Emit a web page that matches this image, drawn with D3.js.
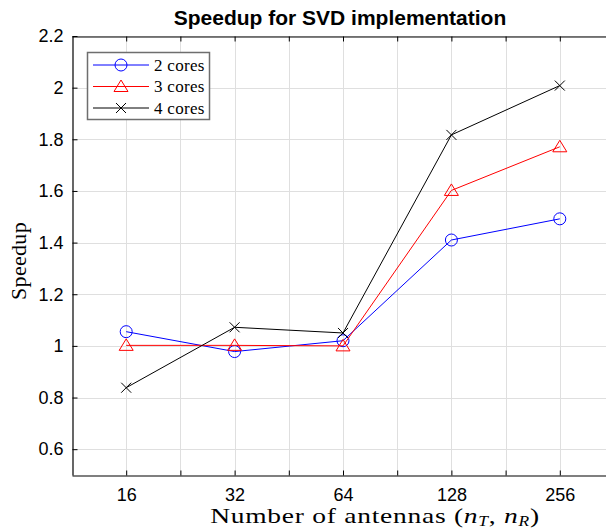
<!DOCTYPE html>
<html>
<head>
<meta charset="utf-8">
<script src="https://cdn.jsdelivr.net/npm/d3@7"></script>
<style>
  body { margin: 0; background: #fff; }
  svg { display: block; }
</style>
</head>
<body>
<div id="chart"></div>
<script>
// data
var antennas = [16, 32, 64, 128, 256];
var cores2 = [1.055, 0.978, 1.020, 1.410, 1.492];
var cores3 = [1.002, 1.002, 1.000, 1.602, 1.771];
var cores4 = [0.838, 1.072, 1.050, 1.817, 2.008];
var seriesNames = ["2 cores", "3 cores", "4 cores"];
var yTicks = [0.6, 0.8, 1, 1.2, 1.4, 1.6, 1.8, 2, 2.2];

var W = 606, H = 531;
var plot = {left: 72, top: 36, bottom: 475, right: 614};

var svg = d3.select("#chart").append("svg")
    .attr("width", W)
    .attr("height", H);

var x = d3.scaleLog().base(2)
    .domain([Math.pow(2, 3.5), Math.pow(2, 8.5)])
    .range([plot.left, plot.right]);
var y = d3.scaleLinear()
    .domain([0.5, 2.2])
    .range([plot.bottom, plot.top]);

// minor ticks at half octaves
var minorTicks = antennas.map(function(d) { return d * Math.SQRT2; });
var allX = antennas.concat(minorTicks);

// grid
var grid = svg.append("g").attr("stroke", "#dfdfdf").attr("stroke-width", 1);
grid.selectAll(".vg").data(allX).enter().append("line")
    .attr("x1", function(d) { return Math.round(x(d)) + 0.5; })
    .attr("x2", function(d) { return Math.round(x(d)) + 0.5; })
    .attr("y1", plot.top).attr("y2", plot.bottom);
grid.selectAll(".hg").data(yTicks).enter().append("line")
    .attr("y1", function(d) { return Math.round(y(d)) + 0.5; })
    .attr("y2", function(d) { return Math.round(y(d)) + 0.5; })
    .attr("x1", plot.left).attr("x2", plot.right);

// axes (ticks pointing inward, box on)
var fontTick = "'Liberation Sans', Arial, sans-serif";

svg.append("g")
    .attr("transform", "translate(0," + (plot.bottom + 0.5) + ")")
    .call(d3.axisBottom(x).tickValues(antennas).tickFormat(d3.format("d"))
        .tickSizeInner(-5).tickSizeOuter(0).tickPadding(13));
svg.append("g")
    .attr("transform", "translate(0," + (plot.bottom + 0.5) + ")")
    .call(d3.axisBottom(x).tickValues(minorTicks).tickFormat("")
        .tickSizeInner(-5).tickSizeOuter(0))
    .select(".domain").remove();

svg.append("g")
    .attr("transform", "translate(" + (plot.left + 0.5) + ",0)")
    .call(d3.axisLeft(y).tickValues(yTicks).tickFormat(d3.format("~g"))
        .tickSizeInner(-5).tickSizeOuter(0).tickPadding(9));

// top edge with ticks
svg.append("g")
    .attr("transform", "translate(0," + (plot.top + 0.5) + ")")
    .call(d3.axisTop(x).tickValues(allX).tickFormat("")
        .tickSizeInner(-5).tickSizeOuter(0));

svg.selectAll(".domain").attr("stroke", "#000").attr("stroke-width", 1.2);
svg.selectAll(".tick line").attr("stroke", "#000");
svg.selectAll(".tick text")
    .style("font-family", fontTick)
    .style("font-size", "18px")
    .attr("fill", "#000");

// series
var series = [
  {name: seriesNames[0], values: cores2, color: "#0000ff", marker: "circle"},
  {name: seriesNames[1], values: cores3, color: "#ff0000", marker: "triangle"},
  {name: seriesNames[2], values: cores4, color: "#000000", marker: "cross"}
];

var line = d3.line()
    .x(function(d, i) { return x(antennas[i]); })
    .y(function(d) { return y(d); });

function drawMarker(g, type, color, cx, cy) {
  if (type === "circle") {
    g.append("circle").attr("cx", cx).attr("cy", cy).attr("r", 6)
        .attr("fill", "none").attr("stroke", color).attr("stroke-width", 1);
  } else if (type === "triangle") {
    g.append("path")
        .attr("d", "M" + cx + "," + (cy - 6.5) + "L" + (cx + 7) + "," + (cy + 5) + "L" + (cx - 7) + "," + (cy + 5) + "Z")
        .attr("fill", "none").attr("stroke", color).attr("stroke-width", 1);
  } else {
    var s = 5;
    g.append("path")
        .attr("d", "M" + (cx - s) + "," + (cy - s) + "L" + (cx + s) + "," + (cy + s) +
                   "M" + (cx - s) + "," + (cy + s) + "L" + (cx + s) + "," + (cy - s))
        .attr("fill", "none").attr("stroke", color).attr("stroke-width", 1);
  }
}

series.forEach(function(s) {
  var g = svg.append("g");
  g.append("path")
      .datum(s.values)
      .attr("d", line)
      .attr("fill", "none")
      .attr("stroke", s.color)
      .attr("stroke-width", 1);
  s.values.forEach(function(v, i) {
    drawMarker(g, s.marker, s.color, x(antennas[i]), y(v));
  });
});

// legend
var serif = "'Liberation Serif', 'Times New Roman', serif";
var lg = svg.append("g");
lg.append("rect")
    .attr("x", 87.5).attr("y", 52.5)
    .attr("width", 122).attr("height", 67)
    .attr("fill", "#fff")
    .attr("stroke", "#6e6e6e").attr("stroke-width", 1.5);
series.forEach(function(s, i) {
  var ly = 65 + i * 21.5;
  lg.append("line")
      .attr("x1", 93).attr("x2", 149)
      .attr("y1", ly).attr("y2", ly)
      .attr("stroke", s.color).attr("stroke-width", 1);
  drawMarker(lg, s.marker, s.color, 121, ly);
  lg.append("text")
      .attr("x", 154).attr("y", ly + 5.5)
      .style("font-family", serif)
      .style("font-size", "17px")
      .style("letter-spacing", "0.3px")
      .attr("fill", "#000")
      .text(s.name);
});

// title
svg.append("text")
    .attr("x", 340).attr("y", 25)
    .attr("text-anchor", "middle")
    .style("font-family", fontTick)
    .style("font-size", "21px")
    .style("font-weight", "bold")
    .text("Speedup for SVD implementation");

// axis labels (LaTeX font is wider than Times: widen a bit)
var xlg = svg.append("g");
var xl = xlg.append("text")
    .attr("x", 0).attr("y", 0)
    .attr("text-anchor", "middle")
    .style("font-family", serif)
    .style("font-size", "22px")
    .style("letter-spacing", "0.6px");
xl.append("tspan").text("Number of antennas (");
xl.append("tspan").style("font-style", "italic").text("n");
xl.append("tspan").style("font-style", "italic").style("font-size", "14px").attr("dy", 3).text("T");
xl.append("tspan").attr("dy", -3).text(", ");
xl.append("tspan").style("font-style", "italic").text("n");
xl.append("tspan").style("font-style", "italic").style("font-size", "14px").attr("dy", 3).text("R");
xl.append("tspan").attr("dy", -3).text(")");
var xlen = xl.node().getComputedTextLength();
xlg.attr("transform", "translate(375,523) scale(" + (330 / xlen) + ",1)");

svg.append("text")
    .attr("transform", "translate(26,261) rotate(-90)")
    .attr("text-anchor", "middle")
    .style("font-family", serif)
    .style("font-size", "22px")
    .style("letter-spacing", "0.3px")
    .text("Speedup");
</script>
</body>
</html>
